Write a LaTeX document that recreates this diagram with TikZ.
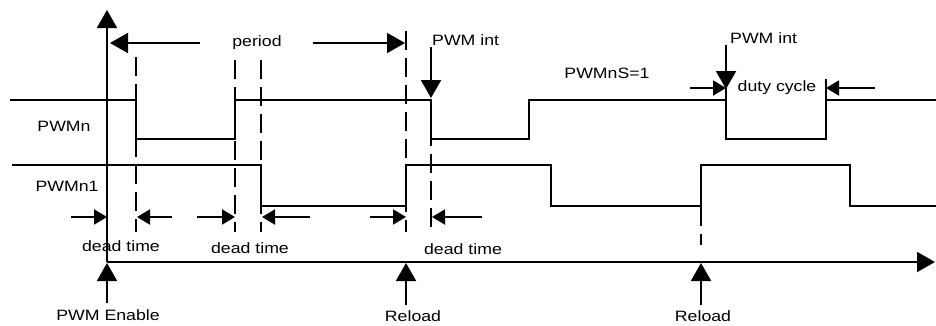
\documentclass[tikz,border=0pt]{standalone}
\usepackage{fontspec}
\setmainfont{Liberation Sans}[FakeStretch=1.18]
\usetikzlibrary{arrows.meta}
\begin{document}
\begin{tikzpicture}[x=1pt,y=-1pt,
  sig/.style={line width=1.9pt, line join=miter},
  dsh/.style={line width=1.9pt, dash pattern=on 19pt off 8pt},
  big/.style={line width=1.9pt, -{Triangle[length=18pt,width=20pt]}},
  sml/.style={line width=1.9pt, -{Triangle[length=13pt,width=15pt]}},
  tick/.style={line width=1.9pt},
  lbl/.style={font=\fontsize{15}{18}\selectfont, inner sep=0pt}]
\useasboundingbox (0,0) rectangle (936,325);

% axes
\coordinate (o) at (107,262);
\coordinate (ytop) at (107,10);
\coordinate (xend) at (935,262);
\draw[big] (o) -- (ytop);
\draw[big] (o) -- (xend);

% signals
\draw[sig] (10,100) -- (136,100) -- (136,139) -- (235,139) -- (235,100) -- (431,100) -- (431,139) -- (529,139) -- (529,100) -- (726,100) -- (726,139) -- (826,139) -- (826,100) -- (936,100);
\draw[sig] (12,165) -- (261,165) -- (261,206) -- (406,206) -- (406,165) -- (551,165) -- (551,206) -- (701,206) -- (701,165) -- (850,165) -- (850,206) -- (936,206);

% dashed markers
\draw[dsh] (136,57) -- (136,232);
\draw[dsh] (235,60) -- (235,232);
\draw[dsh] (261,60) -- (261,232);
\draw[dsh] (406,31) -- (406,232);
\draw[dsh] (431,100) -- (431,232);
\draw[dsh] (701,207) -- (701,245);

% period
\node[lbl] (period) at (257,43) {period};
\coordinate (pA) at (200,43); \coordinate (pAt) at (110,43);
\coordinate (pB) at (313,43); \coordinate (pBt) at (405,43);
\draw[big] (pA) -- (pAt);
\draw[big] (pB) -- (pBt);

% PWM int 1
\node[lbl, anchor=west] (int1) at (432,40) {PWM int};
\coordinate (i1s) at (431,47); \coordinate (i1t) at (431,98);
\draw[big] (i1s) -- (i1t);

% PWMnS=1
\node[lbl] (pwmns) at (607,73) {PWMnS=1};

% PWM int 2
\node[lbl, anchor=west] (int2) at (730,38) {PWM int};
\coordinate (i2s) at (726,45); \coordinate (i2t) at (726,89);
\draw[big] (i2s) -- (i2t);

% duty cycle
\node[lbl] (duty) at (777,88) {duty cycle};
\coordinate (d1s) at (690,88); \coordinate (d1t) at (726,88);
\coordinate (d2s) at (875,88); \coordinate (d2t) at (826,88);
\draw[sml] (d1s) -- (d1t);
\draw[sml] (d2s) -- (d2t);
\draw[tick] (726,79) -- (726,100);
\draw[tick] (826,79) -- (826,100);

% signal names
\node[lbl] (pwmn) at (64,126) {PWMn};
\node[lbl] (pwmn1) at (67,186) {PWMn1};

% dead time arrows
\foreach \s/\t in {71/107, 172/137, 197/235, 310/262, 370/406, 482/432}
  \draw[sml] (\s,217) -- (\t,217);
\node[lbl] (dt1) at (121,246) {dead time};
\node[lbl] (dt2) at (250,248) {dead time};
\node[lbl] (dt3) at (463,249) {dead time};

% bottom event arrows
\coordinate (e1) at (107,303); \coordinate (e1t) at (107,263);
\coordinate (r1) at (406,305); \coordinate (r1t) at (406,263);
\coordinate (r2) at (701,305); \coordinate (r2t) at (701,263);
\draw[big] (e1) -- (e1t);
\draw[big] (r1) -- (r1t);
\draw[big] (r2) -- (r2t);
\node[lbl] (en) at (108,315) {PWM Enable};
\node[lbl] (rl1) at (413,316) {Reload};
\node[lbl] (rl2) at (703,316) {Reload};
\end{tikzpicture}
\end{document}
